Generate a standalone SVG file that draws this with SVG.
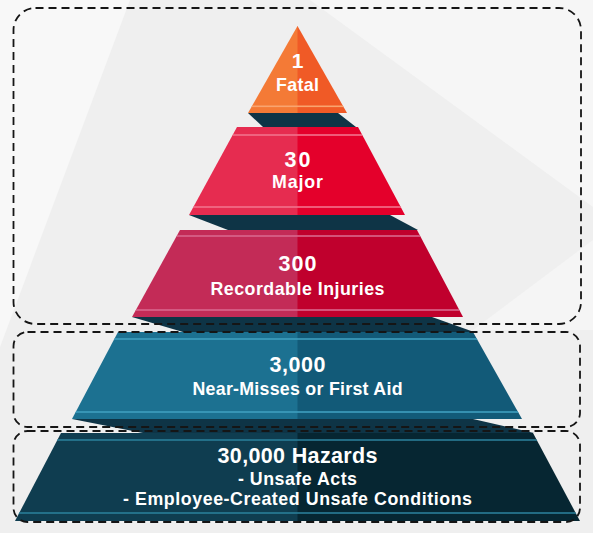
<svg xmlns="http://www.w3.org/2000/svg" width="593" height="533" viewBox="0 0 593 533">
<defs>
<style>
.lbl{font-family:"Liberation Sans",Arial,sans-serif;font-weight:700;fill:#ffffff;text-anchor:middle}
.big{font-size:21.5px}
.sm{font-size:17.8px}
.box{fill:none;stroke:#151515;stroke-width:1.8;stroke-dasharray:8 5}
.shadow{fill:#0e3446}
</style>
<clipPath id="c1"><polygon points="297.5,26 347,113 248,113"/></clipPath>
<clipPath id="c2"><polygon points="237,127 358,127 405,215 189,215"/></clipPath>
<clipPath id="c3"><polygon points="180,230 417,230 463,317 132,317"/></clipPath>
<clipPath id="c4"><polygon points="118,332 473,332 522,419 72,419"/></clipPath>
<clipPath id="c5"><polygon points="61,433 533,433 580,521 15,521"/></clipPath>
</defs>
<rect x="0" y="0" width="593" height="533" fill="#efefef"/>
<polygon points="0,0 130,0 0,347" fill="#f8f8f8"/>
<polygon points="310,0 593,0 593,207" fill="#f6f6f6"/>
<polygon points="593,240 593,330 473,330" fill="#f5f5f5"/>

<g id="shadows">
<polygon class="shadow" points="248,113 338,113 356,127 263,127"/>
<polygon class="shadow" points="189,215 390,215 418,230 228,230"/>
<polygon class="shadow" points="132,317 432,317 474,332 183,332"/>
<polygon class="shadow" points="72,419 473,419 534,433 143,433" fill="#0b3142"/>
</g>

<g id="tier1">
<g clip-path="url(#c1)">
<rect x="240" y="20" width="58" height="100" fill="#f47a36"/>
<rect x="297.5" y="20" width="60" height="100" fill="#f05a26"/>
<rect x="240" y="105.5" width="120" height="1.6" fill="#f9a46f"/>
</g>
<text class="lbl" x="297.5" y="68" font-size="21">1</text>
<text class="lbl sm" x="297.5" y="91" textLength="43">Fatal</text>
</g>

<g id="tier2">
<g clip-path="url(#c2)">
<rect x="180" y="120" width="118" height="100" fill="#e62c50"/>
<rect x="297.5" y="120" width="120" height="100" fill="#e4002b"/>
<rect x="180" y="134.2" width="240" height="1.6" fill="#f2728c"/>
<rect x="180" y="206.2" width="240" height="1.6" fill="#f2728c"/>
</g>
<text class="lbl big" x="297.5" y="167" textLength="26">30</text>
<text class="lbl sm" x="297.5" y="188" textLength="51">Major</text>
</g>

<g id="tier3">
<g clip-path="url(#c3)">
<rect x="120" y="225" width="178" height="100" fill="#c32b57"/>
<rect x="297.5" y="225" width="180" height="100" fill="#c0002d"/>
<rect x="120" y="235.2" width="360" height="1.6" fill="#d9668d"/>
<rect x="120" y="309.2" width="360" height="1.6" fill="#d9668d"/>
</g>
<text class="lbl big" x="297.5" y="271" textLength="38">300</text>
<text class="lbl sm" x="297.5" y="295" textLength="174">Recordable Injuries</text>
</g>

<g id="tier4">
<g clip-path="url(#c4)">
<rect x="60" y="325" width="238" height="100" fill="#1c7191"/>
<rect x="297.5" y="325" width="240" height="100" fill="#125a78"/>
<rect x="60" y="338.2" width="480" height="1.6" fill="#3f9fbf"/>
<rect x="60" y="411.2" width="480" height="1.6" fill="#3f9fbf"/>
</g>
<text class="lbl big" x="297.5" y="372" textLength="56">3,000</text>
<text class="lbl sm" x="297.5" y="395" textLength="210">Near-Misses or First Aid</text>
</g>

<g id="tier5">
<g clip-path="url(#c5)">
<rect x="10" y="428" width="288" height="100" fill="#0f3d50"/>
<rect x="297.5" y="428" width="290" height="100" fill="#062632"/>
<rect x="10" y="439.2" width="580" height="1.6" fill="#2a7d98"/>
<rect x="10" y="512.2" width="580" height="1.6" fill="#2a7d98"/>
</g>
<text class="lbl big" x="297.5" y="463" textLength="160">30,000 Hazards</text>
<text class="lbl sm" x="297.5" y="485" textLength="119">- Unsafe Acts</text>
<text class="lbl sm" x="297.5" y="505" textLength="349">- Employee-Created Unsafe Conditions</text>
</g>

<g id="group-top">
<rect class="box" x="13.5" y="8" width="567.5" height="316" rx="22" ry="22"/>
</g>
<g id="group-middle">
<rect class="box" x="13.5" y="332" width="566.5" height="95" rx="14" ry="14"/>
</g>
<g id="group-bottom">
<rect class="box" x="13.5" y="431" width="566.5" height="91" rx="14" ry="14"/>
</g>
<g id="connectors"/>
</svg>
